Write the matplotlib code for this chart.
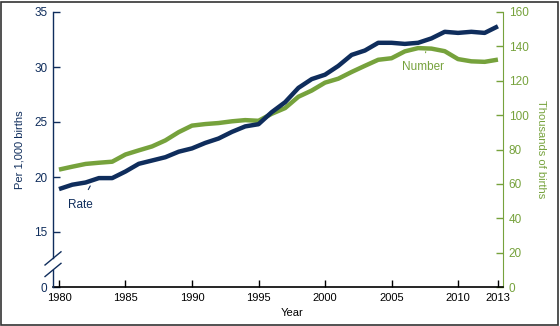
import numpy as np
import matplotlib
matplotlib.use("Agg")
from matplotlib import pyplot as plt
from matplotlib.patches import Rectangle

plt.rcParams['font.family'] = ['Liberation Sans', 'DejaVu Sans']

navy = "#0f2d5c"
green = "#76a23c"

years = list(range(1980, 2014))
# twin birth rate per 1,000 births
rate = [18.9, 19.3, 19.5, 19.9, 19.9, 20.5, 21.2, 21.5, 21.8, 22.3,
        22.6, 23.1, 23.5, 24.1, 24.6, 24.8, 25.9, 26.8, 28.1, 28.9,
        29.3, 30.1, 31.1, 31.5, 32.2, 32.2, 32.1, 32.2, 32.6, 33.2,
        33.1, 33.2, 33.1, 33.7]
# twin births, thousands
number = [68.3, 70.0, 71.6, 72.3, 72.9, 77.1, 79.5, 81.8, 85.3, 90.1,
          93.9, 94.8, 95.4, 96.4, 97.1, 96.7, 100.8, 104.1, 110.7, 114.3,
          118.9, 121.2, 125.1, 128.7, 132.2, 133.1, 137.1, 139.0, 138.7, 137.2,
          132.6, 131.3, 131.0, 132.3]

xticks = [1980, 1985, 1990, 1995, 2000, 2005, 2010, 2013]
left_ticks = [0, 15, 20, 25, 30, 35]
right_ticks = [0, 20, 40, 60, 80, 100, 120, 140, 160]

# left axis is broken below 15: "0" sits where 10 would be
def brk(v):
    return np.where(np.asarray(v, dtype=float) >= 15, np.asarray(v, dtype=float), 10)

fig = plt.figure(figsize=(5.6, 3.26), dpi=100)
ax = fig.add_axes([53/560, 1-287/326, 450/560, 275/326])
ax2 = ax.twinx()

ax.set_zorder(2)
ax.patch.set_visible(False)

ax.plot(years, rate, color=navy, lw=3.2, solid_capstyle='butt', zorder=3)
ax2.plot(years, number, color=green, lw=3.2, solid_capstyle='butt', zorder=3)

ax.set_xlim(1979.55, 2013.38)
ax.set_ylim(10, 35)
ax2.set_ylim(0, 160)

ax.set_xticks(xticks)
ax.set_xticklabels([str(t) for t in xticks], fontsize=8)
ax.set_yticks(brk(left_ticks))
ax.set_yticklabels([str(t) for t in left_ticks], fontsize=8.5, color=navy)
ax2.set_yticks(right_ticks)
ax2.set_yticklabels([str(t) for t in right_ticks], fontsize=8.5, color=green)

ax.tick_params(axis='x', direction='in', length=5, width=1, pad=4)
ax.tick_params(axis='y', direction='in', length=5, width=1, color=navy, pad=4)
ax2.tick_params(axis='y', direction='in', length=5, width=1, color=green, pad=4)

for a in (ax, ax2):
    a.spines['top'].set_visible(False)
ax.spines['right'].set_visible(False)
ax2.spines['left'].set_visible(False)
ax2.spines['bottom'].set_visible(False)
ax2.spines['right'].set_color(green)
ax.spines['bottom'].set_color('black')
ax.spines['bottom'].set_linewidth(1.2)

# left spine drawn in two pieces around the break
ax.spines['left'].set_visible(False)
xl = 1979.55
ax.plot([xl, xl], [12.6, 35], color=navy, lw=1, clip_on=False, zorder=4)
ax.plot([xl, xl], [10, 11.55], color=navy, lw=1, clip_on=False, zorder=4)
for yb in (12.6, 11.55):
    ax.plot([xl - 0.6, xl + 0.6], [yb - 0.6, yb + 0.6], color=navy, lw=1,
            clip_on=False, zorder=4)

ax.set_ylabel("Per 1,000 births", fontsize=8, color=navy, labelpad=7)
ax2.set_ylabel("Thousands of births", fontsize=8, color=green, rotation=270,
               labelpad=13)
fig.text(292/560, 1-313/326, "Year", fontsize=8, ha='center', va='center')

ax.annotate("Rate", xy=(1982.4, 19.3), xytext=(1981.6, 17.5),
            fontsize=8.5, color=navy, ha='center', va='center',
            arrowprops=dict(arrowstyle='-', color=navy, lw=0.8, shrinkA=5, shrinkB=1))
ax2.annotate("Number", xy=(2007.6, 138.5), xytext=(2007.4, 128),
             fontsize=8.5, color=green, ha='center', va='center',
             arrowprops=dict(arrowstyle='-', color=green, lw=0.8, shrinkA=4, shrinkB=2))

fig.patches.append(Rectangle((0.002, 0.004), 0.994, 0.99, transform=fig.transFigure,
                             fill=False, edgecolor='#333333', lw=1.2))

plt.savefig("out.png", dpi=100)
